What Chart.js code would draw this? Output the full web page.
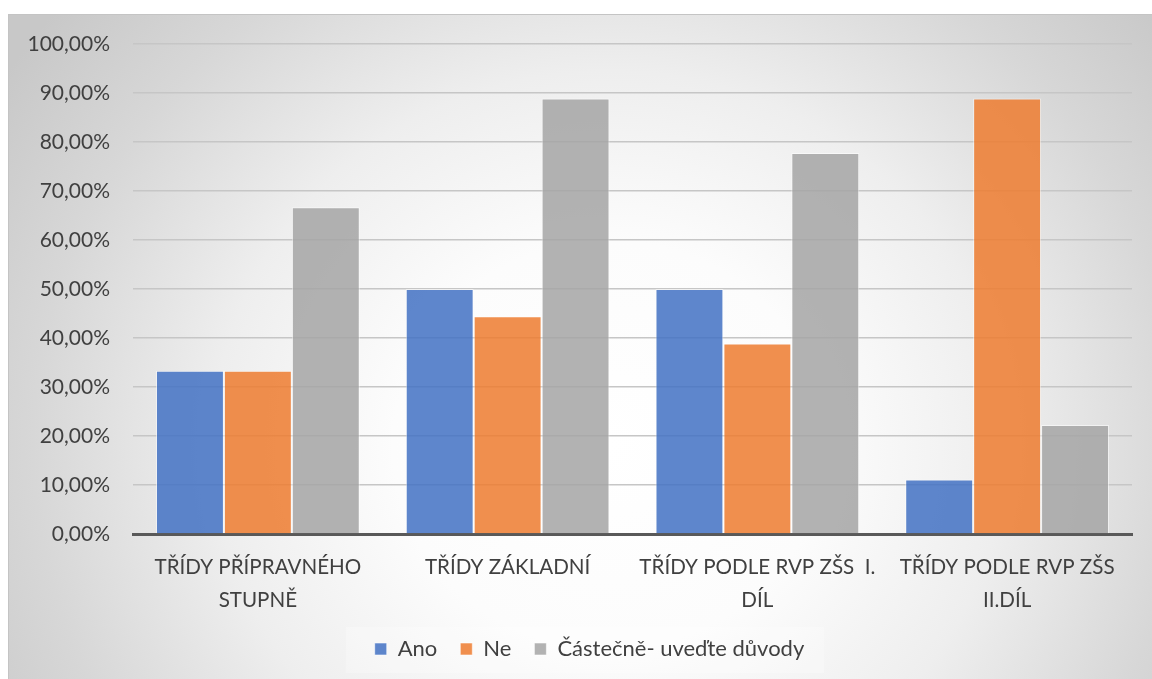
<!DOCTYPE html>
<html>
<head>
<meta charset="utf-8">
<script src="https://cdn.jsdelivr.net/npm/chart.js@4.4.0/dist/chart.umd.min.js"></script>
<style>
  html, body { margin: 0; padding: 0; background: #ffffff; overflow: hidden; }
  #frame {
    position: absolute; left: 8px; top: 14px; width: 1143px; height: 664px;
    border-left: 1px solid #c4c4c4; border-top: 1px solid #c4c4c4;
    background: radial-gradient(ellipse 720px 680px at 600px 430px,
      #ffffff 0%, #fcfcfc 30%, #eeeeee 55%, #d7d7d7 80%, #c8c8c8 100%);
  }
  canvas { display: block; }
</style>
</head>
<body>
<div id="frame"><canvas id="c"></canvas></div>
<script>
// Categories (school class types) and the share of answers per category
const categories = [
  ['TŘÍDY PŘÍPRAVNÉHO', 'STUPNĚ'],
  ['TŘÍDY ZÁKLADNÍ'],
  ['TŘÍDY PODLE RVP ZŠS  I.', 'DÍL'],
  ['TŘÍDY PODLE RVP ZŠS', 'II.DÍL']
];
const seriesNames = ['Ano', 'Ne', 'Částečně- uveďte důvody'];
const ano = [33.33, 50.00, 50.00, 11.11];
const ne = [33.33, 44.44, 38.89, 88.89];
const castecne = [66.67, 88.89, 77.78, 22.22];
const yTicks = [0, 10, 20, 30, 40, 50, 60, 70, 80, 90, 100];

const FONT = 'Lato, "Open Sans", sans-serif';
const TEXT = '#404040';

function fmtPercent(v) {
  return v.toFixed(2).replace('.', ',') + '%';
}

// Legend band: fixed height, and centred under the whole frame width
const legendBand = {
  id: 'legendBand',
  afterInit(chart) {
    const lg = chart.legend;
    if (!lg) return;
    const fit = lg.fit.bind(lg);
    lg.fit = function () {
      fit();
      this.height = 63;
    };
  },
  afterLayout(chart) {
    const lg = chart.legend;
    if (!lg) return;
    lg.left += 19;
    lg.right += 19;
  }
};

// Soft light panel behind the legend items
const legendPanel = {
  id: 'legendPanel',
  beforeDraw(chart) {
    const lg = chart.legend;
    if (!lg || !lg.legendHitBoxes || !lg.legendHitBoxes.length) return;
    const boxes = lg.legendHitBoxes;
    const first = boxes[0];
    const last = boxes[boxes.length - 1];
    const cy = first.top + first.height / 2;
    const x0 = first.left - 29;
    const x1 = last.left + last.width + 20;
    const ctx = chart.ctx;
    ctx.save();
    ctx.fillStyle = 'rgba(255,255,255,0.25)';
    ctx.fillRect(x0, cy - 22, x1 - x0, 46);
    ctx.restore();
  }
};

const ctx = document.getElementById('c');
new Chart(ctx, {
  type: 'bar',
  data: {
    labels: categories,
    datasets: [
      { label: seriesNames[0], data: ano, backgroundColor: 'rgba(68,114,196,0.86)', borderColor: 'rgba(255,255,255,0.55)', borderWidth: 1 },
      { label: seriesNames[1], data: ne, backgroundColor: 'rgba(237,125,49,0.86)', borderColor: 'rgba(255,255,255,0.55)', borderWidth: 1 },
      { label: seriesNames[2], data: castecne, backgroundColor: 'rgba(165,165,165,0.86)', borderColor: 'rgba(255,255,255,0.55)', borderWidth: 1 }
    ]
  },
  options: {
    responsive: true,
    maintainAspectRatio: false,
    animation: false,
    datasets: { bar: { barPercentage: 1.0, categoryPercentage: 0.816 } },
    layout: { padding: { top: 29, right: 20, bottom: 1, left: 0 } },
    plugins: {
      tooltip: { enabled: false },
      legend: {
        position: 'bottom',
        labels: {
          font: { family: FONT, size: 22 },
          color: TEXT,
          boxWidth: 12,
          boxHeight: 12,
          padding: 23
        }
      }
    },
    scales: {
      x: {
        afterFit(scale) { scale.height = 81; },
        grid: { display: false, drawTicks: false },
        border: { display: true, color: '#595959', width: 3 },
        ticks: {
          font: { family: FONT, size: 20.6, lineHeight: 1.6 },
          color: TEXT,
          maxRotation: 0,
          autoSkip: false,
          padding: 17
        }
      },
      y: {
        min: 0,
        max: 100,
        afterFit(scale) {
          scale.width = 124;
          scale.paddingTop = 0;
          scale.paddingBottom = 0;
        },
        afterBuildTicks(scale) { scale.ticks = yTicks.map(v => ({ value: v })); },
        grid: {
          color: (c) => c.tick && c.tick.value === 0 ? 'rgba(0,0,0,0)' : '#c6c6c6',
          lineWidth: 1.5,
          drawTicks: false
        },
        border: { display: false },
        ticks: {
          font: { family: FONT, size: 21 },
          color: TEXT,
          padding: 23,
          callback: (v) => fmtPercent(v)
        }
      }
    }
  },
  plugins: [legendBand, legendPanel]
});
</script>
</body>
</html>
